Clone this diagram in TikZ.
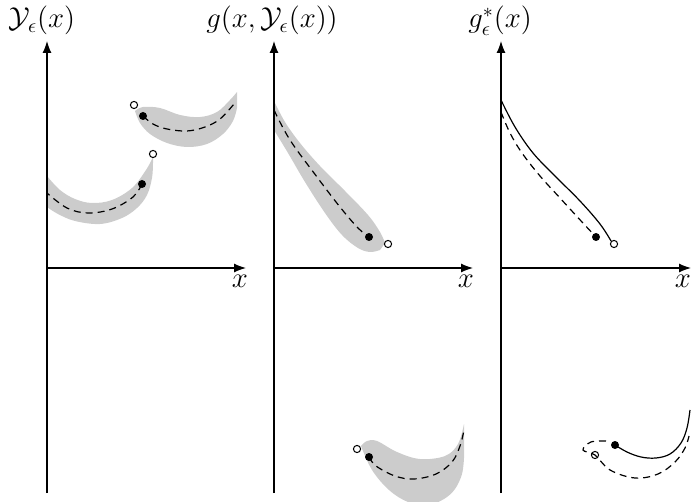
\documentclass[tikz,border=0pt]{standalone}
\usetikzlibrary{arrows.meta}
\begin{document}
\begin{tikzpicture}[x=0.5pt,y=-0.5pt,
  axis/.style={line width=0.6pt,-{Latex[length=6pt,width=4.5pt]}},
  band/.style={fill=black!20,draw=none},
  dashcurve/.style={line width=0.6pt,dash pattern=on 3.5pt off 2.5pt},
  solidcurve/.style={line width=0.6pt},
  fdot/.style={circle,fill=black,inner sep=0pt,minimum size=4pt},
  odot/.style={circle,draw=black,fill=white,line width=0.5pt,inner sep=0pt,minimum size=3.6pt},
  lbl/.style={inner sep=0pt,anchor=base,font=\Large}]
\useasboundingbox (0,0) rectangle (691,502);
\clip (0,0) rectangle (691,502);

% ---------- axes coordinates ----------
\coordinate (a1b) at (47,493);  \coordinate (a1t) at (47,41);
\coordinate (a1o) at (47,268);  \coordinate (a1r) at (246,268);
\coordinate (a2b) at (274,493); \coordinate (a2t) at (274,41);
\coordinate (a2o) at (274,268); \coordinate (a2r) at (473,268);
\coordinate (a3b) at (501,493); \coordinate (a3t) at (501,41);
\coordinate (a3o) at (501,268); \coordinate (a3r) at (691,268);

% ---------- panel 1 ----------
\fill[band] plot[smooth,tension=0.6] coordinates {(135,111) (143,107) (160,108) (180,115) (200,117) (217,112) (230,100) (237,92)}
  -- plot[smooth,tension=0.6] coordinates {(237,108) (233,121) (223,134) (207,144) (187,147) (167,143) (150,134) (140,123) (135,111)} -- cycle;
\fill[band] plot[smooth,tension=0.6] coordinates {(47,176) (60,190) (75,199) (92,203) (112,200) (132,188) (146,170) (153,157)}
  -- plot[smooth,tension=0.6] coordinates {(153,163) (152,178) (147,195) (137,208) (122,218) (100,224) (75,221) (58,214) (47,207)} -- cycle;

\node[fdot] (p1a) at (143,116) {};
\node[odot] (p1b) at (134,105) {};
\node[fdot] (p1c) at (142,184) {};
\node[odot] (p1d) at (153,154) {};
\draw[dashcurve] plot[smooth,tension=0.6] coordinates {(p1a) (153,124) (167,129) (187,131) (205,127) (220,119) (234,104)};
\draw[dashcurve] plot[smooth,tension=0.6] coordinates {(p1c) (133,197) (112,209) (88,213) (67,208) (47,193)};

\draw[axis] (a1b) -- (a1t);
\draw[axis] (a1o) -- (a1r);
\node[lbl] (ly1) at (42,28) {$\mathcal{Y}_\epsilon(x)$};
\node[lbl] (lx1) at (240,288) {$x$};

% ---------- panel 2 ----------
\fill[band] plot[smooth,tension=0.6] coordinates {(274,101) (285,122) (300,143) (320,166) (345,191) (368,215) (380,232) (385,243)}
  -- plot[smooth,tension=0.6] coordinates {(380,250) (370,252) (358,248) (342,235) (325,213) (305,182) (288,153) (274,130)} -- cycle;
\node[fdot] (p2a) at (369,237) {};
\node[odot] (p2b) at (388,244) {};
\draw[dashcurve] plot[smooth,tension=0.6] coordinates {(274,110) (290,140) (317,177) (340,207) (358,228) (p2a)};

\fill[band] plot[smooth,tension=0.6] coordinates {(361,446) (367,441) (377,441) (397,452) (420,459) (445,456) (458,444) (464,424)}
  -- plot[smooth,tension=0.6] coordinates {(464,458) (462,474) (455,489) (444,499) (428,505) (408,502) (389,490) (372,470) (361,446)} -- cycle;
\node[fdot] (p2c) at (369,457) {};
\node[odot] (p2d) at (357,449) {};
\draw[dashcurve] plot[smooth,tension=0.6] coordinates {(p2c) (376,466) (395,476) (414,479) (436,474) (452,462) (460,446) (464,430)};

\draw[axis] (a2b) -- (a2t);
\draw[axis] (a2o) -- (a2r);
\node[lbl] (ly2) at (272,28) {$g(x,\mathcal{Y}_\epsilon(x))$};
\node[lbl] (lx2) at (466,288) {$x$};

% ---------- panel 3 ----------
\node[fdot] (p3a) at (596,237) {};
\node[odot] (p3b) at (614,244) {};
\draw[solidcurve] plot[smooth,tension=0.6] coordinates {(501,100) (515,127) (533,153) (555,176) (580,201) (600,224) (p3b.north west)};
\draw[dashcurve] plot[smooth,tension=0.6] coordinates {(501,112) (510,133) (522,153) (540,176) (560,198) (582,222) (p3a)};

\node[fdot] (p3c) at (615,445) {};
\node[odot] (p3d) at (595,455) {};
\draw[solidcurve] plot[smooth,tension=0.6] coordinates {(p3c) (627,452) (641,457) (656,458) (670,454) (681,443) (687,428) (690,410)};
\draw[dashcurve] plot[smooth,tension=0.6] coordinates {(606,441) (591,442) (583,450) (p3d) (610,470) (635,478) (658,474) (675,462) (685,448) (689,436)};

\draw[axis] (a3b) -- (a3t);
\draw[axis] (a3o) -- (a3r);
\node[lbl] (ly3) at (500,28) {$g^*_\epsilon(x)$};
\node[lbl] (lx3) at (683,288) {$x$};
\end{tikzpicture}
\end{document}
